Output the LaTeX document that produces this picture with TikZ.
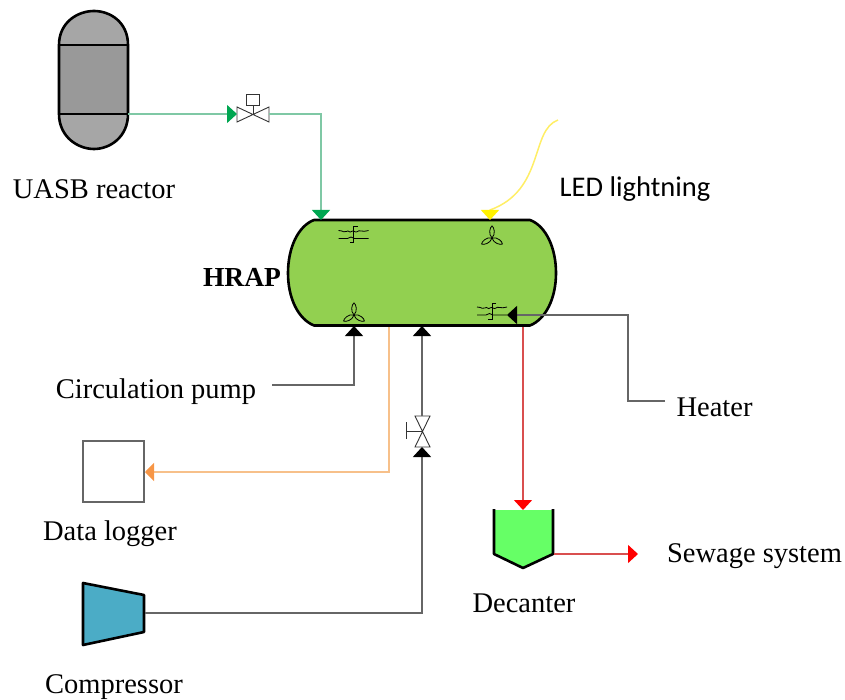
\documentclass[tikz,border=0pt]{standalone}
\usepackage{fontspec}
\setmainfont{Liberation Serif}
\newfontfamily\ledfont{Carlito}
\usetikzlibrary{arrows.meta}
\definecolor{tankgray}{HTML}{A6A6A6}
\definecolor{bedgray}{HTML}{999999}
\definecolor{pondgreen}{HTML}{92D050}
\definecolor{settlegreen}{HTML}{66FF66}
\definecolor{compblue}{HTML}{4BACC6}
\definecolor{feedline}{HTML}{7FC8A5}
\definecolor{feedtip}{HTML}{00A651}
\definecolor{lightline}{HTML}{FFEE66}
\definecolor{loggerline}{HTML}{F7C08A}
\definecolor{loggertip}{HTML}{F79646}
\definecolor{outline}{HTML}{D94F4F}
\definecolor{pipegray}{HTML}{666666}
\tikzset{
  label/.style={inner sep=0pt,font=\fontsize{28.5}{30}\selectfont},
  vessel/.style={draw=black,line width=2.6pt,line join=round},
  feedpipe/.style={draw=feedline,line width=1.4pt,-{Triangle[length=10pt,width=18pt,color=feedtip]}},
  lightpipe/.style={draw=lightline,line width=1.5pt,-{Triangle[length=10pt,width=18pt,color=yellow]}},
  gaspipe/.style={draw=pipegray,line width=1.4pt,-{Triangle[length=10pt,width=18pt,color=black]}},
  logpipe/.style={draw=loggerline,line width=1.4pt,-{Triangle[length=9pt,width=18pt,color=loggertip]}},
  sludgepipe/.style={draw=outline,line width=1.4pt,-{Triangle[length=10pt,width=18pt,color=red]}},
  valvebody/.style={draw=black!80,fill=white,line width=.9pt},
  propeller/.pic={
    \foreach \ang in {0,120,240}
      \draw[rotate=\ang,black,line width=.8pt] (0,0) .. controls (-4,-4) and (-2,-11) .. (0,-12)
        .. controls (2,-11) and (4,-4) .. (0,0);
  },
  mixer/.pic={
    \draw[black,line width=.8pt] (-15,-4) .. controls (-10,-4) and (-9,-1) .. (-7,-3)
      .. controls (-5,-5) and (-4,-1) .. (-2,-3) .. controls (0,-5) and (2,-1) .. (4,-3)
      .. controls (6,-5) and (8,-2) .. (15,-4);
    \draw[black,line width=.8pt] (-15,4) -- (-6,4) .. controls (-4,2) and (-1,2) .. (1,4) -- (15,4);
    \draw[black,line width=.8pt] (4,-8) -- (0,-8) -- (0,8) -- (-4,8);
  }
}
\begin{document}
\begin{tikzpicture}[x=1pt,y=-1pt]
  \useasboundingbox (0,0) rectangle (845,700);
  % labels
  \draw
    (94,189) node[label] (uasb){UASB reactor}
    (635,189) node[label,font=\ledfont\fontsize{28.5}{30}\selectfont] (led){LED lightning}
    (242,277) node[label,font=\bfseries\fontsize{27.5}{30}\selectfont] (hrap){HRAP}
    (156,392) node[label] (pump){Circulation pump}
    (714.5,407) node[label] (heater){Heater}
    (110,534) node[label] (logger){Data logger}
    (524,603) node[label] (decanter){Decanter}
    (754.5,556) node[label] (sewage){Sewage system}
    (114,687) node[label] (compressor){Compressor};
  % reactor
  \fill[tankgray] (59,45) .. controls (59,22) and (78,11) .. (94,11) .. controls (110,11) and (128,22) .. (128,45)
    -- (128,114) .. controls (128,137) and (110,149) .. (94,149) .. controls (78,149) and (59,137) .. (59,114) -- cycle;
  \fill[bedgray] (59,45) rectangle (128,114);
  \draw[vessel] (59,45) .. controls (59,22) and (78,11) .. (94,11) .. controls (110,11) and (128,22) .. (128,45)
    -- (128,114) .. controls (128,137) and (110,149) .. (94,149) .. controls (78,149) and (59,137) .. (59,114) -- cycle;
  \draw[vessel] (59,45) -- (128,45);
  \draw[vessel] (59,114) -- (128,114);
  % pond
  \draw[vessel,fill=pondgreen] (314,220) -- (530,220) .. controls (546,226) and (556,248) .. (556,273)
    .. controls (556,298) and (546,319) .. (530,325.5) -- (314,325.5) .. controls (298,319) and (288,298) .. (288,273)
    .. controls (288,248) and (298,226) .. (314,220) -- cycle;
  \path (492,238) pic {propeller};
  \path (354,315) pic {propeller};
  \path (353.5,234.5) pic {mixer};
  \path (492,311) pic {mixer};
  % decanter
  \fill[settlegreen] (494,510) -- (553,510) -- (553,554) -- (523,568) -- (494,554) -- cycle;
  \draw[vessel] (494,509) -- (494,554) -- (523,568) -- (553,554) -- (553,509);
  % logger and compressor
  \draw[draw=pipegray,line width=1.1pt] (83,441) rectangle (144,502);
  \draw[vessel,fill=compblue] (83,583) -- (144,595) -- (144,632) -- (83,645) -- cycle;
  % valves
  \draw[valvebody] (237,107) -- (269,122) -- (269,107) -- (237,122) -- cycle;
  \draw[valvebody] (253,114.5) -- (253,105);
  \draw[valvebody] (246.5,94) rectangle (259.5,105);
  \draw[valvebody] (415,416) -- (430,416) -- (415,447) -- (430,447) -- cycle;
  \draw[valvebody] (422,431) -- (406.5,431);
  \draw[valvebody] (406.5,422) -- (406.5,439);
  % connector ends
  \coordinate (reactor_e) at (128,114);
  \coordinate (valve1_w) at (237,114);
  \coordinate (valve1_e) at (269,114);
  \coordinate (feed_in) at (321,220);
  \coordinate (led_src) at (558,120);
  \coordinate (led_in) at (490,220);
  \coordinate (pump_in) at (354,326);
  \coordinate (pump_e) at (272,385);
  \coordinate (log_out) at (389,327);
  \coordinate (logger_e) at (145,472);
  \coordinate (gas_in) at (422,326);
  \coordinate (valve2_n) at (422,416);
  \coordinate (valve2_s) at (422,447);
  \coordinate (comp_e) at (145,613);
  \coordinate (heat_in) at (507,315);
  \coordinate (heater_w) at (665,401);
  \coordinate (red_out) at (523,327);
  \coordinate (dec_in) at (523,510);
  \coordinate (dec_e) at (554,554);
  \coordinate (sew_in) at (638,554);
  % connectors
  \begin{scope}[-]
    \draw[feedpipe] (reactor_e) to (valve1_w);
    \draw[feedpipe] (valve1_e) -| (feed_in);
    \draw[lightpipe] (led_src) .. controls (530,130) and (545,190) .. (490,210) to (led_in);
    \draw[gaspipe] (pump_e) -| (pump_in);
    \draw[logpipe] (log_out) |- (logger_e);
    \draw[gaspipe] (comp_e) -| (valve2_s);
    \draw[gaspipe] (valve2_n) to (gas_in);
    \draw[gaspipe] (heater_w) -- (628,401) |- (heat_in);
    \draw[sludgepipe] (red_out) to (dec_in);
    \draw[sludgepipe] (dec_e) to (sew_in);
  \end{scope}
\end{tikzpicture}
\end{document}
